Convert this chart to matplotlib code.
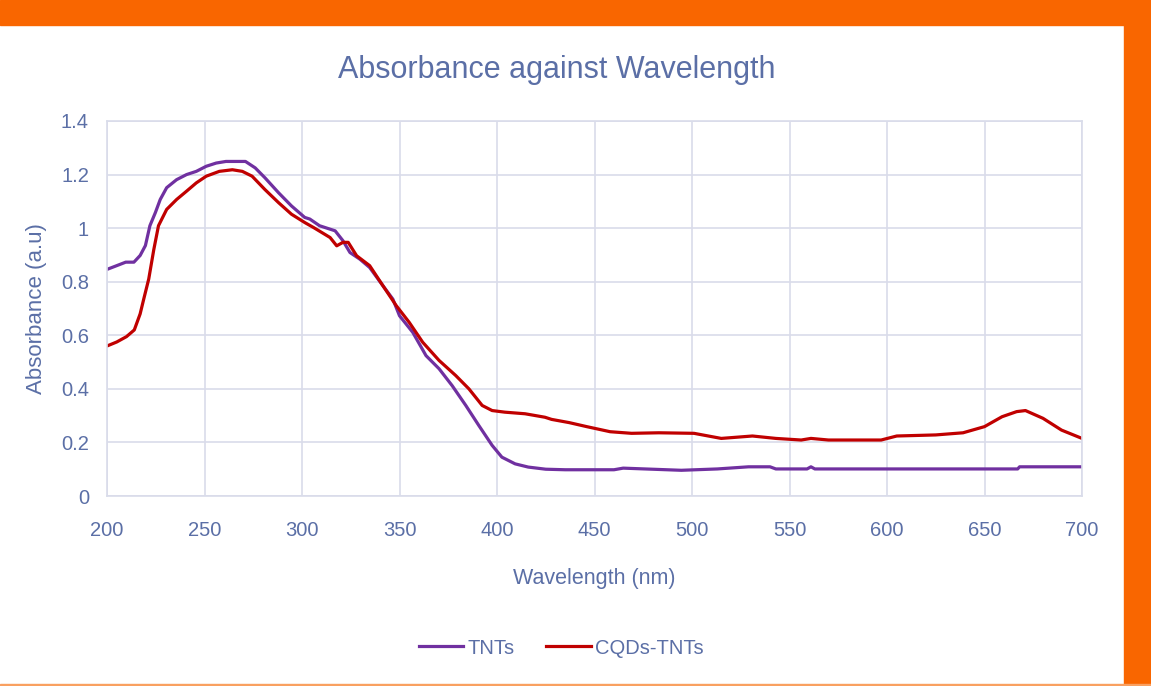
import matplotlib
matplotlib.use("Agg")
import matplotlib.pyplot as plt
from matplotlib.patches import Rectangle

# ---------------- data ----------------
tnt_nm = [200, 205, 209.6, 213.8, 217, 219.7, 222, 224.8, 227.3, 230.6, 235.7, 240.8,
          245.8, 250.9, 256, 261, 266, 271, 276, 281, 288, 294.6, 301.4, 304, 309,
          317, 321, 324.6, 329.7, 334.7, 341.5, 346.6, 350, 356.8, 363.6, 370.3,
          377, 384, 390.7, 397.5, 402.5, 409.3, 416, 425, 435, 460, 464.7, 494.5,
          513, 529, 540, 543, 559, 561, 563, 600, 650, 667, 668, 700]
tnt_abs = [0.846, 0.860, 0.873, 0.873, 0.898, 0.935, 1.009, 1.058, 1.107, 1.151, 1.181,
           1.200, 1.212, 1.231, 1.243, 1.249, 1.249, 1.249, 1.225, 1.188, 1.132, 1.083,
           1.040, 1.034, 1.009, 0.990, 0.953, 0.909, 0.884, 0.853, 0.785, 0.735, 0.673,
           0.611, 0.524, 0.475, 0.412, 0.338, 0.263, 0.189, 0.145, 0.120, 0.108, 0.100,
           0.098, 0.098, 0.104, 0.096, 0.101, 0.109, 0.109, 0.101, 0.101, 0.109, 0.101,
           0.101, 0.101, 0.101, 0.109, 0.109]

cqd_nm = [200, 205, 210, 214, 217, 218.9, 221.4, 224, 226.4, 230.6, 235.7, 240.8,
          245.8, 250.9, 257.6, 264.3, 269.4, 274.4, 281, 288, 294.6, 301.4, 306,
          314.4, 317.8, 321, 323.7, 328, 334.7, 341.5, 348.3, 355, 361.9, 370.3,
          378.8, 385.6, 392.4, 397.5, 404, 414.4, 424.6, 428, 437, 446, 458, 469,
          483, 501, 515, 531, 543, 556, 561, 570, 597, 605, 625, 639, 650, 659,
          666.5, 671, 680, 689.5, 700]
cqd_abs = [0.560, 0.575, 0.595, 0.620, 0.680, 0.737, 0.810, 0.920, 1.009, 1.070, 1.107,
           1.138, 1.169, 1.194, 1.212, 1.218, 1.212, 1.194, 1.144, 1.095, 1.052, 1.021,
           1.002, 0.965, 0.934, 0.947, 0.947, 0.897, 0.860, 0.785, 0.711, 0.648, 0.574,
           0.506, 0.450, 0.400, 0.338, 0.319, 0.313, 0.307, 0.294, 0.286, 0.274, 0.259,
           0.240, 0.234, 0.236, 0.234, 0.215, 0.224, 0.215, 0.209, 0.215, 0.209, 0.209,
           0.224, 0.228, 0.236, 0.259, 0.296, 0.315, 0.319, 0.290, 0.246, 0.215]

series_names = ["TNTs", "CQDs-TNTs"]
x_ticks = [200, 250, 300, 350, 400, 450, 500, 550, 600, 650, 700]
y_ticks = [0, 0.2, 0.4, 0.6, 0.8, 1.0, 1.2, 1.4]
y_tick_labels = ["0", "0.2", "0.4", "0.6", "0.8", "1", "1.2", "1.4"]

# ---------------- style ----------------
FONT = "Liberation Sans"
TXT = "#5B6FA6"
GRID = "#D9DCEA"
ORANGE = "#F96600"
PURPLE = "#7030A0"
RED = "#C00000"

fig = plt.figure(figsize=(11.51, 6.86), dpi=100)
W, H = 1151, 686

# orange frame
fig.patches.append(Rectangle((0, 1 - 25 / H), 1, 25 / H, transform=fig.transFigure,
                             color=ORANGE, zorder=0))
fig.patches.append(Rectangle((1124 / W, 0), 27 / W, 1, transform=fig.transFigure,
                             color=ORANGE, zorder=0))
fig.patches.append(Rectangle((0, 0), 1, 2 / H, transform=fig.transFigure,
                             color="#F9A060", zorder=0))

ax = fig.add_axes([107 / W, 1 - 496 / H, (1082 - 107) / W, (496 - 121) / H])
ax.plot(tnt_nm, tnt_abs, color=PURPLE, lw=2.3, label=series_names[0],
        solid_joinstyle="round")
ax.plot(cqd_nm, cqd_abs, color=RED, lw=2.3, label=series_names[1],
        solid_joinstyle="round")

ax.set_xlim(200, 700)
ax.set_ylim(0, 1.4)
ax.set_xticks(x_ticks)
ax.set_yticks(y_ticks)
ax.set_yticklabels(y_tick_labels)
ax.grid(True, color=GRID, lw=1.2)
ax.set_axisbelow(True)
for s in ax.spines.values():
    s.set_color(GRID)
    s.set_linewidth(1.2)
ax.tick_params(length=0, colors=TXT, labelsize=14.5)
ax.tick_params(axis="x", pad=18)
ax.tick_params(axis="y", pad=13)
for lab in ax.get_xticklabels() + ax.get_yticklabels():
    lab.set_fontfamily(FONT)

ax.set_xlabel("Wavelength (nm)", color=TXT, fontsize=15.5, family=FONT, labelpad=20)
ax.set_ylabel("Absorbance (a.u)", color=TXT, fontsize=16, family=FONT, labelpad=10)

fig.text(557 / W, 1 - 70 / H, "Absorbance against Wavelength", color=TXT,
         fontsize=22, family=FONT, ha="center", va="center")

leg = fig.legend(loc="center", bbox_to_anchor=(561 / W, 1 - 648 / H), ncol=2,
                 frameon=False, handlelength=2.2, handletextpad=0.2,
                 columnspacing=1.6, prop={"family": FONT, "size": 14.5})
for t in leg.get_texts():
    t.set_color(TXT)

fig.savefig("out.png", dpi=100, facecolor="white")
